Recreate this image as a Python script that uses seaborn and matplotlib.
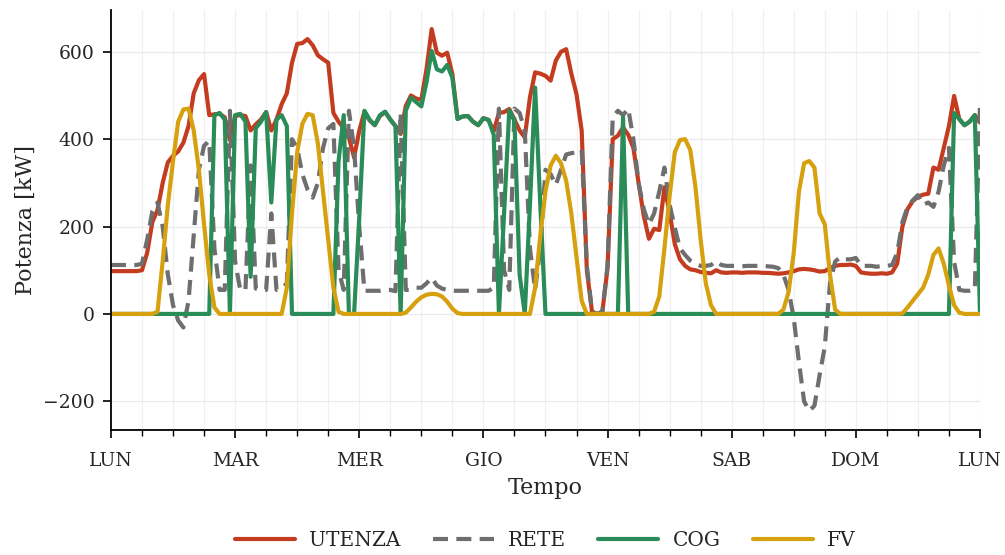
import numpy as np
import pandas as pd
import matplotlib
matplotlib.use("Agg")
import matplotlib.pyplot as plt
from matplotlib.ticker import MultipleLocator
import seaborn as sns

# Hourly power profile over one week (kW), Monday 00:00 -> next Monday 00:00
giorni = ["LUN", "MAR", "MER", "GIO", "VEN", "SAB", "DOM", "LUN"]

utenza = [
    98, 98, 98, 98, 98, 98, 100, 140, 210, 238, 300, 347, 362, 372, 392, 430, 505, 535, 549, 455, 457, 458, 450, 398,
    453, 455, 453, 420, 434, 445, 462, 420, 445, 480, 505, 575, 618, 620, 629, 615, 592, 583, 575, 460, 440, 425, 404, 358,
    419, 463, 443, 432, 453, 462, 445, 430, 412, 476, 500, 493, 490, 560, 652, 598, 591, 598, 549, 447, 452, 453, 440, 432,
    448, 444, 418, 460, 462, 469, 445, 420, 404, 496, 553, 550, 545, 534, 580, 600, 606, 550, 503, 420, 100, 5, 0, 5,
    105, 400, 408, 427, 410, 380, 300, 225, 172, 195, 192, 290, 232, 160, 125, 110, 102, 100, 96, 94, 93, 100, 95, 94,
    95, 95, 94, 95, 95, 95, 94, 94, 93, 92, 93, 95, 98, 102, 103, 102, 100, 97, 98, 105, 110, 112, 112, 113,
    110, 95, 93, 92, 92, 93, 92, 95, 115, 200, 240, 258, 268, 273, 275, 335, 330, 380, 430, 499, 446, 432, 440, 455,
    438,
]

rete = [
    112, 112, 112, 112, 112, 112, 115, 170, 235, 255, 200, 90, 20, -15, -31, 30, 180, 330, 385, 396, 150, 55, 55, 465,
    120, 55, 55, 340, 58, 55, 55, 230, 55, 58, 70, 400, 380, 320, 285, 266, 300, 380, 425, 435, 100, 55, 465, 380,
    200, 53, 53, 53, 53, 55, 55, 52, 460, 55, 55, 60, 60, 70, 83, 65, 58, 55, 53, 53, 53, 53, 53, 53,
    53, 53, 60, 470, 100, 55, 470, 460, 420, 150, 55, 150, 330, 320, 295, 330, 365, 368, 370, 376, 110, 5, 0, 5,
    110, 450, 465, 455, 470, 400, 300, 240, 205, 230, 280, 335, 250, 198, 150, 135, 122, 115, 110, 110, 112, 121, 112, 110,
    110, 110, 109, 110, 110, 110, 110, 109, 108, 105, 90, 55, -10, -110, -200, -222, -210, -140, -75, 70, 120, 130, 125, 125,
    128, 110, 110, 110, 108, 110, 110, 112, 140, 210, 245, 260, 272, 250, 255, 245, 280, 340, 380, 120, 55, 53, 53, 55,
    480,
]

cog = [
    0, 0, 0, 0, 0, 0, 0, 0, 0, 0, 0, 0, 0, 0, 0, 0, 0, 0, 0, 0, 455, 460, 445, 0,
    455, 458, 440, 85, 425, 440, 462, 255, 445, 455, 430, 0, 0, 0, 0, 0, 0, 0, 0, 0, 350, 455, 0, 0,
    220, 465, 445, 432, 455, 463, 445, 430, 0, 465, 495, 485, 475, 530, 602, 560, 555, 570, 541, 446, 452, 453, 440, 432,
    448, 444, 410, 0, 230, 466, 442, 90, 0, 250, 518, 250, 0, 0, 0, 0, 0, 0, 0, 0, 0, 0, 0, 0,
    0, 0, 0, 450, 0, 0, 0, 0, 0, 0, 0, 0, 0, 0, 0, 0, 0, 0, 0, 0, 0, 0, 0, 0,
    0, 0, 0, 0, 0, 0, 0, 0, 0, 0, 0, 0, 0, 0, 0, 0, 0, 0, 0, 0, 0, 0, 0, 0,
    0, 0, 0, 0, 0, 0, 0, 0, 0, 0, 0, 0, 0, 0, 0, 0, 0, 0, 0, 460, 446, 432, 440, 455,
    0,
]

fv = [
    0, 0, 0, 0, 0, 0, 0, 0, 0, 5, 120, 250, 350, 440, 468, 470, 420, 330, 205, 90, 15, 0, 0, 0,
    0, 0, 0, 0, 0, 0, 0, 0, 0, 0, 60, 230, 370, 435, 458, 455, 390, 280, 170, 60, 5, 0, 0, 0,
    0, 0, 0, 0, 0, 0, 0, 0, 0, 3, 15, 28, 38, 44, 46, 45, 40, 28, 12, 2, 0, 0, 0, 0,
    0, 0, 0, 0, 0, 0, 0, 0, 0, 0, 60, 180, 280, 340, 362, 345, 305, 230, 130, 30, 0, 0, 0, 0,
    0, 0, 0, 0, 0, 0, 0, 0, 0, 5, 40, 150, 270, 370, 398, 400, 375, 290, 170, 70, 20, 0, 0, 0,
    0, 0, 0, 0, 0, 0, 0, 0, 0, 0, 10, 50, 140, 280, 345, 350, 335, 230, 205, 90, 10, 0, 0, 0,
    0, 0, 0, 0, 0, 0, 0, 0, 0, 1, 15, 30, 45, 60, 90, 135, 150, 115, 65, 20, 3, 0, 0, 0,
    0,
]

serie = ["UTENZA", "RETE", "COG", "FV"]
colori = {"UTENZA": "#C43C1F", "RETE": "#6E6E6E", "COG": "#2A8C58", "FV": "#D6A00E"}
tratti = {"UTENZA": "", "RETE": (3.6, 2.0), "COG": "", "FV": ""}

ore = np.arange(len(utenza))
df = pd.concat(
    [pd.DataFrame({"ora": ore, "kW": vals, "serie": nome})
     for nome, vals in zip(serie, [utenza, rete, cog, fv])],
    ignore_index=True,
)

sns.set_theme(style="ticks")
plt.rcParams["font.family"] = ["DejaVu Serif"]
plt.rcParams["axes.unicode_minus"] = True

fig = plt.figure(figsize=(10.05, 5.55), dpi=100)
ax = fig.add_axes([0.1104, 0.2252, 0.8647, 0.7568])

sns.lineplot(
    data=df, x="ora", y="kW", hue="serie", style="serie",
    hue_order=serie, style_order=serie, palette=colori, dashes=tratti,
    linewidth=3.0, ax=ax,
)

ax.set_xlim(0, 168)
ax.xaxis.set_major_locator(MultipleLocator(24))
ax.xaxis.set_minor_locator(MultipleLocator(6))
ax.set_xticks(np.arange(0, 169, 24))
ax.set_xticklabels(giorni)
ax.yaxis.set_major_locator(MultipleLocator(200))

ax.grid(True, which="major", axis="y", color="#ebebeb", linewidth=0.9)
ax.grid(True, which="both", axis="x", color="#f0f0f0", linewidth=0.9)
ax.set_axisbelow(True)

ax.tick_params(axis="both", which="major", labelsize=13.5, length=6, width=1.2, color="black")
ax.tick_params(axis="x", which="major", pad=10)
ax.tick_params(axis="y", which="major", pad=6)
ax.tick_params(axis="x", which="minor", length=4, width=1.0, color="black")
for s in ["left", "bottom"]:
    ax.spines[s].set_color("black")
    ax.spines[s].set_linewidth(1.3)
sns.despine(ax=ax)

ax.set_xlabel("Tempo", fontsize=16, labelpad=5)
ax.set_ylabel("Potenza [kW]", fontsize=16, labelpad=4)

sns.move_legend(
    ax, "center", bbox_to_anchor=(0.5, -0.262), ncol=4, frameon=False,
    title=None, fontsize=14.5, handlelength=3.0, handletextpad=0.7, columnspacing=1.6,
)

fig.savefig("out.png", dpi=100)
